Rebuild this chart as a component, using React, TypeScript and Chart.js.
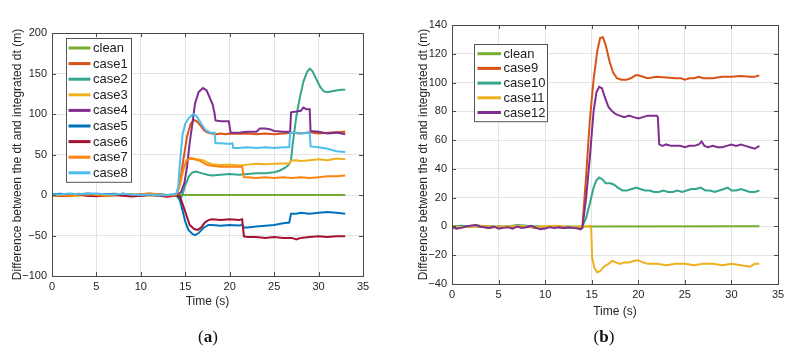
import { useEffect, useRef } from 'react';
import { Chart, registerables } from 'chart.js';

Chart.register(...registerables);

type Pt = [number, number];

// ---------- panel (a): cases 1-8 ----------
const cleanA: Pt[] = [[0, 0], [14, 0], [33, 0]];
const case1: Pt[] = [
  [0, 0.5], [1, -0.5], [2, 0.5], [3, 1.5], [4, 0.5], [5, -0.5], [6, 0], [7, 1], [8, 0.5], [9, -1], [10, 1], [11, 1.5], [12, 0], [13, -1.5], [13.6, -0.5], [14, 0.5],
  [14.4, 15], [14.8, 45], [15.2, 72], [15.6, 88], [16, 92.5], [16.3, 91], [16.7, 86], [17.1, 80], [17.5, 77], [18, 76], [18.5, 75], [19, 76], [19.5, 75], [20, 76],
  [21, 75.5], [22, 76], [23, 75], [24, 76], [25, 75], [26, 76], [27, 77], [28, 76], [29, 77.5], [30, 76], [31, 77], [32, 77.5], [33, 78],
];
const case2: Pt[] = [
  [0, 0], [1, 1], [2, 0.5], [3, 0], [4, 1], [5, 0.5], [6, -0.5], [7, 0], [8, 1], [9, 0.5], [10, -0.5], [11, 0], [12, 0.5], [13, 0], [13.7, -0.5], [14, -1],
  [14.3, -5], [14.6, -2], [15, 12], [15.4, 23], [15.8, 28], [16.2, 29], [16.8, 27], [17.5, 25], [18, 24], [19, 25], [20, 26], [21, 25], [22, 26], [23, 27], [24, 27],
  [25, 28], [25.6, 30], [26.3, 34], [26.7, 38], [26.9, 43], [27.1, 64], [27.5, 97], [27.9, 121], [28.3, 140], [28.7, 152], [29, 156], [29.3, 153], [29.8, 142],
  [30.2, 133], [30.6, 128], [31, 127], [31.5, 128], [32, 129], [32.5, 130], [33, 130],
];
const case3: Pt[] = [
  [0, -1], [1, -0.5], [2, -1.5], [3, -1], [4, 0], [5, -1], [6, -1.5], [7, -0.5], [8, 0], [9, -1], [10, -0.5], [11, 0], [12, -1], [13, -1.5], [13.7, -1], [14, 0],
  [14.4, 12], [14.8, 32], [15.2, 43], [15.6, 46], [16, 45], [16.5, 44], [17, 43], [17.5, 40], [18, 38], [19, 37], [20, 37.5], [21, 36.5], [22, 37.5], [23, 38.5],
  [24, 38], [25, 38.5], [26, 39], [26.7, 39], [26.9, 42.5], [27.5, 43], [28, 42], [29, 43], [30, 44], [31, 43], [32, 45], [33, 44],
];
const case4: Pt[] = [
  [0, 0.5], [1, 0], [2, 1], [3, 0.5], [4, -0.5], [5, 0], [6, 1], [7, 0.5], [8, 1.5], [9, 0], [10, -0.5], [11, 0.5], [12, 0], [13, -1], [13.7, 0], [14, 0.5],
  [14.5, 3], [14.9, 15], [15.2, 35], [15.5, 65], [15.7, 80], [16.1, 113], [16.5, 127], [17, 132], [17.4, 129], [17.8, 119], [18.1, 111], [18.3, 100], [18.4, 92],
  [19, 91], [19.9, 91], [20.1, 77], [21, 77], [22, 78], [23, 78], [23.4, 82], [24, 82], [24.6, 81], [25, 79], [26, 78], [26.8, 78], [26.9, 102], [27.5, 103],
  [28, 104], [28.3, 108], [28.6, 106], [29, 106], [29.1, 79], [30, 78], [31, 76], [32, 77], [33, 75],
];
const case5: Pt[] = [
  [0, 1], [1, 1.5], [2, 0.5], [3, 1], [4, 2], [5, 1], [6, 0.5], [7, 1.5], [8, 1], [9, 0], [10, 0.5], [11, 1], [12, 0.5], [13, 0], [13.7, 0.5], [14, 0],
  [14.3, -3], [14.6, -15], [15, -33], [15.35, -43], [15.8, -48], [16.1, -49.5], [16.5, -47], [17, -41], [17.6, -37], [18, -37], [19, -38], [20, -37], [21, -37.5],
  [21.4, -37], [21.6, -40], [22, -40], [23, -39], [24, -38], [25, -37], [26, -35], [26.7, -34], [26.9, -23], [27.5, -23], [28, -22], [29, -23], [30, -22],
  [31, -21], [32, -22], [33, -23],
];
const case6: Pt[] = [
  [0, 0], [1, -1], [2, -0.5], [3, 0.5], [4, -1], [5, -1.5], [6, -0.5], [7, 0], [8, -1], [9, -2], [10, -1], [11, 0], [12, -1], [13, -2], [13.7, -1], [14, -0.5],
  [14.4, -2], [14.97, -20], [15.5, -37], [16, -42], [16.4, -43], [16.8, -40], [17.2, -34], [17.6, -31], [18, -30], [19, -31], [20, -30], [21, -31], [21.4, -30],
  [21.6, -51], [22, -52], [23, -52], [24, -53], [25, -52], [26, -53], [27, -53], [27.5, -55], [28, -53], [29, -52], [30, -51], [31, -52], [32, -51], [33, -51],
];
const case7: Pt[] = [
  [0, -0.5], [1, 0], [2, -1], [3, 0.5], [4, 1], [5, 0], [6, -1], [7, 0.5], [8, 1.5], [9, 0.5], [10, 1], [11, 2], [12, 0.5], [13, -0.5], [13.7, 0], [14, 0.5],
  [14.3, 10], [14.7, 30], [15.1, 42], [15.5, 45], [16, 44], [16.5, 43], [17, 40], [17.5, 37], [18, 36], [19, 35], [20, 35], [21, 35], [21.4, 35], [21.6, 22],
  [22, 22], [23, 21], [24, 22], [25, 21], [26, 22], [27, 21], [28, 22], [29, 21], [30, 22], [31, 23], [32, 23], [33, 24],
];
const case8: Pt[] = [
  [0, 0.5], [1, 1], [2, 2], [3, 1], [4, 1.5], [5, 2], [6, 1], [7, 0.5], [8, 1.5], [9, 0.5], [10, 0], [11, 0.5], [12, -0.5], [13, 0], [13.7, 1], [14, 2],
  [14.2, 10], [14.4, 40], [14.7, 75], [15, 88], [15.4, 95], [15.9, 100], [16.3, 97], [16.8, 88], [17.3, 80], [17.8, 77], [18.3, 77], [18.4, 64], [19, 64],
  [20, 63], [20.3, 64], [20.4, 58], [21, 58], [22, 59], [23, 58], [24, 59], [25, 58], [26, 59], [26.7, 59], [26.8, 77], [27.5, 77], [28, 76], [29, 77],
  [29.1, 60], [30, 59], [31, 57], [32, 54], [33, 53],
];

// ---------- panel (b): cases 9-12 ----------
const cleanB: Pt[] = [[0, 0], [14, 0], [33, 0.2]];
const case9: Pt[] = [
  [0, 0], [1, -0.5], [2, 0.5], [3, 0], [4, -1], [5, 0], [6, -0.5], [7, 0.5], [8, 0], [9, -1], [10, -0.5], [11, 0], [12, -1], [13, -0.5], [13.8, -1], [14, 0],
  [14.4, 35], [14.8, 74], [15.2, 102], [15.6, 122], [15.9, 131], [16.2, 131.5], [16.5, 126], [16.9, 115], [17.3, 107], [17.7, 103], [18.2, 102], [18.7, 102],
  [19.2, 103], [19.7, 105], [20, 105], [20.5, 104], [21, 103], [22, 104], [23, 103.5], [24, 103], [24.6, 103], [25, 102], [25.5, 103], [26, 103], [26.5, 104],
  [27, 103], [28, 103], [29, 104], [30, 104], [31, 104.5], [32, 104], [32.5, 104], [33, 105],
];
const case10: Pt[] = [
  [0, 0], [1, 0.5], [2, 0], [2.5, 1], [3, 0.5], [4, 0], [5, -0.5], [6, 0], [7, 1], [8, 0.5], [9, 0], [10, -0.5], [11, 0], [12, -0.5], [13, -1], [14, 0],
  [14.4, 6], [14.8, 16], [15.2, 27], [15.5, 32], [15.8, 34], [16.1, 33], [16.5, 30], [17, 30], [17.4, 29], [17.8, 27], [18.3, 25], [18.8, 25], [19.3, 26],
  [19.8, 27], [20.2, 26], [20.7, 25], [21.2, 25], [21.7, 24], [22.2, 24], [22.7, 25], [23.2, 24], [23.7, 24], [24.2, 25], [24.7, 24], [25.2, 25], [25.7, 26],
  [26.2, 26], [26.7, 27], [27.2, 25], [27.7, 25], [28.2, 24], [28.7, 25], [29.2, 26], [29.6, 27], [30, 25], [30.5, 25], [31, 26], [31.5, 25], [32, 24],
  [32.5, 24], [33, 25],
];
const case11: Pt[] = [
  [0, 0], [1, -0.5], [2, 0], [3, 0.5], [4, 0], [5, -0.5], [6, 0], [7, 0.5], [8, 0], [9, -0.5], [10, 0], [11, 0.5], [12, 0], [13, -0.5], [14, 0], [14.5, 0],
  [14.8, 0.5], [14.95, -2], [15.05, -22], [15.3, -29], [15.6, -32], [15.9, -31], [16.3, -28], [16.8, -26], [17.2, -24], [17.6, -25], [18, -26], [18.5, -25],
  [19, -25], [19.5, -24], [20, -23.5], [20.5, -25], [21, -26], [22, -26], [23, -27], [24, -26], [25, -26], [26, -27], [27, -26], [28, -26], [29, -27],
  [30, -26], [31, -27], [32, -28], [32.5, -26], [33, -26],
];
const case12: Pt[] = [
  [0, -0.5], [0.5, -1.5], [1, -1], [1.5, 0], [2, 0.5], [2.5, 1], [3, 0], [3.5, -0.5], [4, -1], [4.5, 0], [5, -1.5], [5.5, -1], [6, -0.5], [6.5, -1.5],
  [7, 0], [7.5, -1], [8, -0.5], [8.5, 0.5], [9, -1], [9.5, -2], [10, -1.5], [10.5, -0.5], [11, -1], [11.5, -0.5], [12, -1], [12.5, -0.5], [13, -1],
  [13.5, -1.5], [13.8, -2], [14, -1],
  [14.4, 20], [14.8, 48], [15.2, 80], [15.5, 93], [15.8, 97], [16.1, 96], [16.4, 90], [16.8, 83], [17.2, 80], [17.6, 78], [18, 77], [18.5, 76], [19, 77],
  [19.5, 76], [20, 75], [20.5, 76], [21, 77], [21.5, 77], [22, 77], [22.1, 76], [22.25, 57], [22.6, 56], [23, 57], [23.5, 56], [24, 56], [24.5, 56],
  [25, 55], [25.5, 56], [26, 56], [26.5, 57], [26.8, 59], [27.1, 56], [27.5, 55], [28, 56], [28.5, 55], [29, 55], [29.5, 56], [30, 57], [30.5, 56],
  [31, 57], [31.5, 56], [32, 55], [32.5, 54], [33, 56],
];

const labelsA = ['clean', 'case1', 'case2', 'case3', 'case4', 'case5', 'case6', 'case7', 'case8'];
const labelsB = ['clean', 'case9', 'case10', 'case11', 'case12'];
const colorsA = ['#77AC30', '#D95319', '#33A68C', '#EDB120', '#7E2F8E', '#0072BD', '#A2142F', '#FF8410', '#4DBEEE'];
const colorsB = ['#77AC30', '#D95319', '#33A68C', '#EDB120', '#7E2F8E'];
const dataA = [cleanA, case1, case2, case3, case4, case5, case6, case7, case8];
const dataB = [cleanB, case9, case10, case11, case12];

const yTitle = 'Difference between the dt and integrated dt (m)';
const xTitle = 'Time (s)';

const FONT = '"Liberation Sans", Arial, Helvetica, sans-serif';

interface PanelCfg {
  width: number;
  height: number;
  yMin: number;
  yMax: number;
  yStep: number;
  pad: { top: number; right: number; bottom: number };
  yAxisW: number;
  xAxisH: number;
  yTitlePad: number;
  legend: { dx: number; dy: number; w: number; row: number; first: number; lineX0: number; lineX1: number; textX: number };
}

function frameLegendPlugin(cfg: PanelCfg, labels: string[], colors: string[]) {
  return {
    id: 'frameLegend',
    afterDatasetsDraw(chart: any) {
      const { ctx, chartArea: a, scales } = chart;
      ctx.save();
      // axes box
      ctx.strokeStyle = '#4a4a4a';
      ctx.lineWidth = 1;
      ctx.strokeRect(Math.round(a.left) + 0.5, Math.round(a.top) + 0.5, Math.round(a.right - a.left), Math.round(a.bottom - a.top));
      // inward tick marks on all four sides
      const tl = 4;
      ctx.beginPath();
      scales.x.ticks.forEach((t: any) => {
        const px = Math.round(scales.x.getPixelForValue(t.value)) + 0.5;
        ctx.moveTo(px, a.bottom); ctx.lineTo(px, a.bottom - tl);
        ctx.moveTo(px, a.top); ctx.lineTo(px, a.top + tl);
      });
      scales.y.ticks.forEach((t: any) => {
        const py = Math.round(scales.y.getPixelForValue(t.value)) + 0.5;
        ctx.moveTo(a.left, py); ctx.lineTo(a.left + tl, py);
        ctx.moveTo(a.right, py); ctx.lineTo(a.right - tl, py);
      });
      ctx.stroke();

      // legend box inside the axes
      const L = cfg.legend;
      const x0 = Math.round(a.left + L.dx) + 0.5;
      const y0 = Math.round(a.top + L.dy) + 0.5;
      const h = L.first * 2 + L.row * (labels.length - 1);
      ctx.fillStyle = '#ffffff';
      ctx.fillRect(x0, y0, L.w, h);
      ctx.strokeStyle = '#555555';
      ctx.strokeRect(x0, y0, L.w, h);
      ctx.font = `13px ${FONT}`;
      ctx.textBaseline = 'middle';
      ctx.textAlign = 'left';
      labels.forEach((lab, i) => {
        const cy = y0 + L.first + i * L.row;
        ctx.strokeStyle = colors[i];
        ctx.lineWidth = 3;
        ctx.beginPath();
        ctx.moveTo(x0 + L.lineX0, cy);
        ctx.lineTo(x0 + L.lineX1, cy);
        ctx.stroke();
        ctx.fillStyle = '#222222';
        ctx.fillText(lab, x0 + L.textX, cy + 0.5);
      });
      ctx.restore();
    },
  };
}

function Panel({ cfg, labels, colors, data, left }: { cfg: PanelCfg; labels: string[]; colors: string[]; data: Pt[][]; left: number }) {
  const ref = useRef<HTMLCanvasElement | null>(null);
  useEffect(() => {
    if (!ref.current) return;
    const tickFont = { family: FONT, size: 11 };
    const minus = (v: any) => String(v).replace('-', '\u2212');
    const chart = new Chart(ref.current, {
      type: 'line',
      data: {
        datasets: data.map((d, i) => ({
          label: labels[i],
          data: d.map(([x, y]) => ({ x, y })),
          borderColor: colors[i],
          backgroundColor: colors[i],
          borderWidth: 2,
          pointRadius: 0,
          tension: 0,
          fill: false,
          order: -i,
        })),
      },
      options: {
        animation: false,
        responsive: false,
        maintainAspectRatio: false,
        events: [],
        layout: { padding: { top: cfg.pad.top, right: cfg.pad.right, bottom: cfg.pad.bottom, left: 0 } },
        plugins: { legend: { display: false }, tooltip: { enabled: false } },
        scales: {
          x: {
            type: 'linear',
            min: 0,
            max: 35,
            ticks: { stepSize: 5, padding: 4, font: tickFont, color: '#262626', maxRotation: 0, callback: minus },
            grid: { color: '#e3e3e3', drawTicks: false, lineWidth: 1 },
            border: { display: false },
            title: { display: true, text: xTitle, font: { family: FONT, size: 12 }, color: '#262626', padding: 0 },
            afterFit: (s: any) => { s.height = cfg.xAxisH; },
          },
          y: {
            type: 'linear',
            min: cfg.yMin,
            max: cfg.yMax,
            ticks: { stepSize: cfg.yStep, padding: 5, font: tickFont, color: '#262626', callback: minus },
            grid: { color: '#e3e3e3', drawTicks: false, lineWidth: 1 },
            border: { display: false },
            title: { display: true, text: yTitle, font: { family: FONT, size: 12 }, color: '#262626', padding: { top: cfg.yTitlePad, bottom: 0 } },
            afterFit: (s: any) => { s.width = cfg.yAxisW; },
          },
        },
      } as any,
      plugins: [frameLegendPlugin(cfg, labels, colors)],
    });
    return () => chart.destroy();
  }, [cfg, labels, colors, data]);
  return (
    <canvas
      ref={ref}
      width={cfg.width}
      height={cfg.height}
      style={{ position: 'absolute', left, top: 0, width: cfg.width, height: cfg.height }}
    />
  );
}

const cfgA: PanelCfg = {
  width: 395,
  height: 330,
  yMin: -100,
  yMax: 200,
  yStep: 50,
  pad: { top: 33, right: 32, bottom: 21 },
  yAxisW: 52,
  xAxisH: 33,
  yTitlePad: 10,
  legend: { dx: 14, dy: 5, w: 65, row: 15.6, first: 9.5, lineX0: 2, lineX1: 24, textX: 26.5 },
};

const cfgB: PanelCfg = {
  width: 393,
  height: 330,
  yMin: -40,
  yMax: 140,
  yStep: 20,
  pad: { top: 25, right: 15, bottom: 11 },
  yAxisW: 52,
  xAxisH: 35,
  yTitlePad: 16,
  legend: { dx: 21.5, dy: 18.5, w: 73, row: 14.7, first: 9.2, lineX0: 3, lineX1: 26.5, textX: 29 },
};

const capStyle: React.CSSProperties = {
  position: 'absolute',
  top: 327,
  fontFamily: '"Liberation Serif", "Times New Roman", serif',
  fontSize: 17,
  color: '#111',
  width: 40,
  textAlign: 'center',
  lineHeight: '20px',
};

export default function App() {
  return (
    <div style={{ position: 'fixed', left: 0, top: 0, width: 793, height: 357, background: '#fff', overflow: 'hidden' }}>
      <Panel cfg={cfgA} labels={labelsA} colors={colorsA} data={dataA} left={0} />
      <Panel cfg={cfgB} labels={labelsB} colors={colorsB} data={dataB} left={400} />
      <div style={{ ...capStyle, left: 188 }}>(<b>a</b>)</div>
      <div style={{ ...capStyle, left: 584 }}>(<b>b</b>)</div>
    </div>
  );
}
